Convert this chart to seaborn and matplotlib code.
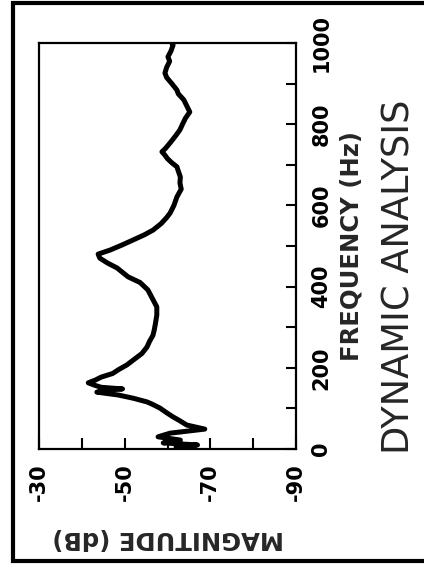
import matplotlib
matplotlib.use("Agg")
import matplotlib.pyplot as plt
from matplotlib.lines import Line2D
import seaborn as sns
import pandas as pd

freq_hz = [0, 5, 10, 15, 22, 30, 39, 49, 59, 70, 79, 90, 101, 110, 116, 125,
           133, 140, 145, 148, 152, 157, 163, 170, 177, 186, 195, 207, 219,
           235, 251, 265, 280, 293, 310, 330, 350, 370, 392, 410, 424, 435,
           446, 458, 470, 480, 490, 503, 515, 527, 539, 555, 570, 581, 600,
           621, 640, 655, 670, 685, 695, 705, 715, 725, 732, 740, 754, 770,
           786, 800, 815, 830, 845, 860, 875, 884, 900, 915, 926, 940, 955,
           966, 980, 995, 1000]
magnitude_db = [-66, -62, -67, -59, -63, -57.8, -60.6, -68.7, -64.5, -62.8,
                -61.3, -59.7, -58.2, -56.5, -55.2, -52, -48.5, -43.5, -46,
                -49.5, -44.5, -43, -41.5, -43.2, -44.5, -47.2, -48.5, -50.5,
                -52, -54, -55.2, -55.8, -56.6, -56.9, -57.2, -57.5, -57.5,
                -56.5, -55.4, -53.6, -50.8, -49.5, -48.2, -46, -44.2, -43.8,
                -46.6, -49.5, -52, -54.5, -56.6, -58.5, -59.8, -60.6, -61.5,
                -62.2, -63.2, -62.9, -63, -62.5, -62.2, -61, -60, -59.3,
                -58.7, -59.5, -60.6, -61.8, -62.9, -63.5, -64.2, -65.2, -64.5,
                -63.8, -62.5, -62.2, -61, -59.8, -59.4, -59.8, -60.5, -60.1,
                -60.8, -61.3, -61]

db_ticks = [-30, -40, -50, -60, -70, -80, -90]
db_labels = ["-30", "", "-50", "", "-70", "", "-90"]
hz_ticks = [0, 100, 200, 300, 400, 500, 600, 700, 800, 900, 1000]
hz_labels = ["0", "", "200", "", "400", "", "600", "", "800", "", "1000"]

sns.set_theme(style="ticks")
plt.rcParams["font.family"] = ["DejaVu Sans"]
plt.rcParams["axes.unicode_minus"] = False

df = pd.DataFrame({"freq": freq_hz, "mag": magnitude_db})

fig = plt.figure(figsize=(4.25, 5.64), dpi=100, facecolor="white",
                 edgecolor="white", linewidth=0)
ax = fig.add_axes([0.0918, 0.2039, 0.6047, 0.7199])

# chart is printed turned a quarter turn: frequency runs up, magnitude runs left
sns.lineplot(data=df, x="mag", y="freq", sort=False, estimator=None,
             color="black", linewidth=3.6, ax=ax)

ax.set_xlim(-30, -90)
ax.set_ylim(0, 1000)
ax.set_xlabel("")
ax.set_ylabel("")

for s in ax.spines.values():
    s.set_visible(True)
    s.set_linewidth(1.6)
    s.set_color("black")

ax.yaxis.tick_right()
ax.set_xticks(db_ticks)
ax.set_xticklabels(db_labels, rotation=90, fontsize=15, fontweight="bold",
                   va="top", ha="center")
ax.set_yticks(hz_ticks)
ax.set_yticklabels(hz_labels, rotation=90, fontsize=15, fontweight="bold",
                   va="center", ha="left")
ax.tick_params(axis="x", direction="in", length=8, width=1.5, pad=10,
               colors="black")
ax.tick_params(axis="y", direction="in", length=7, width=1.5, pad=11,
               colors="black", left=False, right=True)

fig.text(351 / 425, 1 - 246 / 564, "FREQUENCY (Hz)", rotation=90,
         ha="center", va="center", fontsize=17.5, fontweight="bold")
fig.text(168 / 425, 1 - 538 / 564, "MAGNITUDE (dB)", rotation=180,
         ha="center", va="center", fontsize=17.5, fontweight="bold")
fig.text(399 / 425, 1 - 277 / 564, "DYNAMIC ANALYSIS", rotation=90,
         ha="center", va="center", fontsize=26.5)

# heavy outer frame, open at the right edge
x0, y0, y1 = 12.5 / 425, 3 / 564, 1 - 2.5 / 564
x1 = 424 / 425
frame = Line2D([x1, x0, x0, x1], [y1, y1, y0, y0], transform=fig.transFigure,
               color="black", linewidth=3, solid_joinstyle="miter",
               solid_capstyle="butt")
fig.add_artist(frame)

fig.savefig("out.png", dpi=100, facecolor="white", edgecolor="white")
